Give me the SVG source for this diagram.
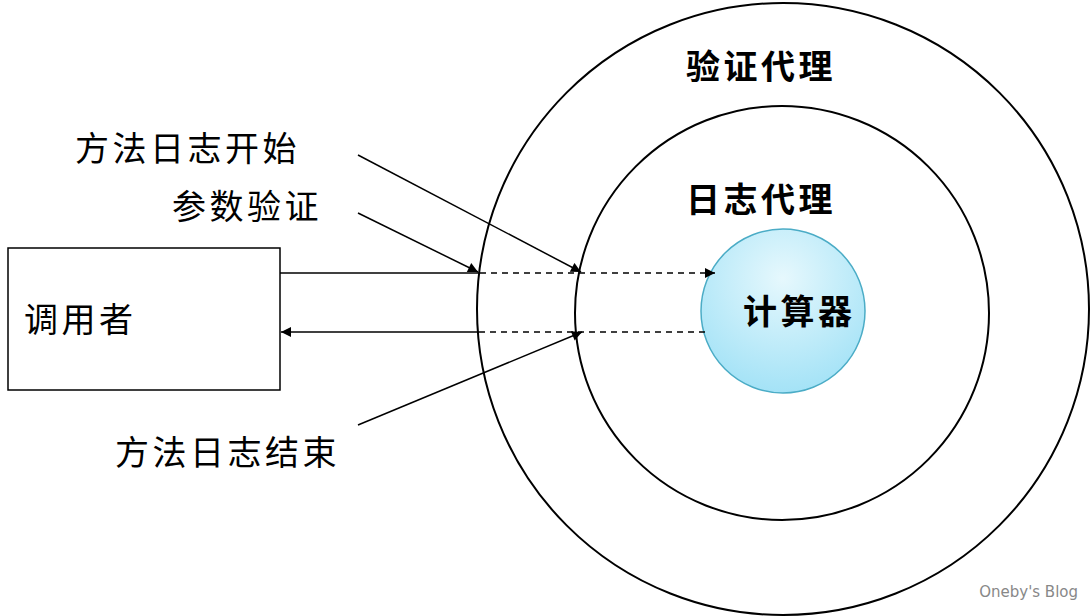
<svg xmlns="http://www.w3.org/2000/svg" width="1092" height="616" viewBox="0 0 1092 616">
<style>
.c{fill:none;stroke:#000;stroke-width:2}
.l{stroke:#000;stroke-width:1.5;fill:none}
.d{stroke:#000;stroke-width:1.5;stroke-dasharray:6,5;fill:none}
.t{font-family:"Noto Sans CJK SC",sans-serif;font-size:34px;letter-spacing:3.5px;fill:#000}
.b{font-weight:bold}
</style>
<defs>
<marker id="a" viewBox="0 0 10 10" refX="10" refY="5" markerWidth="12" markerHeight="10" markerUnits="userSpaceOnUse" orient="auto"><path d="M0,0L10,5L0,10z" fill="#000"/></marker>
<radialGradient id="g" cx="0.5" cy="0.3" r="0.75"><stop offset="0" stop-color="#e6f8fd"/><stop offset="1" stop-color="#9fe1f6"/></radialGradient>
</defs>
<rect width="1092" height="616" fill="#fff"/>
<g id="outer"><circle class="c" cx="783" cy="309" r="306"/><text class="t b" x="686" y="79">验证代理</text></g>
<g id="inner"><circle class="c" cx="782" cy="313" r="207"/><text class="t b" x="686" y="212">日志代理</text></g>
<g id="calc"><circle cx="783" cy="311" r="82" fill="url(#g)" stroke="#4bacc6" stroke-width="1.5"/><text class="t b" x="743" y="324">计算器</text></g>
<g id="caller"><rect x="8" y="248" width="272" height="142" fill="#fff" stroke="#000" stroke-width="1.5"/><text class="t" x="24" y="332">调用者</text></g>
<g id="labels">
<text class="t" x="75" y="161">方法日志开始</text>
<text class="t" x="172" y="219">参数验证</text>
<text class="t" x="115" y="465">方法日志结束</text>
</g>
<g id="connectors">
<line class="l" x1="280" y1="273" x2="479" y2="273"/>
<line class="l" x1="358" y1="213" x2="478" y2="272" marker-end="url(#a)"/>
<line class="l" x1="358" y1="155" x2="581" y2="272" marker-end="url(#a)"/>
<line class="d" x1="480" y1="273" x2="715" y2="273" marker-end="url(#a)"/>
<line class="d" x1="705" y1="332" x2="480" y2="332"/>
<line class="l" x1="480" y1="332" x2="281" y2="332" marker-end="url(#a)"/>
<line class="l" x1="358" y1="425" x2="582" y2="332" marker-end="url(#a)"/>
</g>
<text x="1078" y="597" text-anchor="end" font-family="DejaVu Sans,sans-serif" font-size="15" fill="#888">Oneby's Blog</text>
</svg>
